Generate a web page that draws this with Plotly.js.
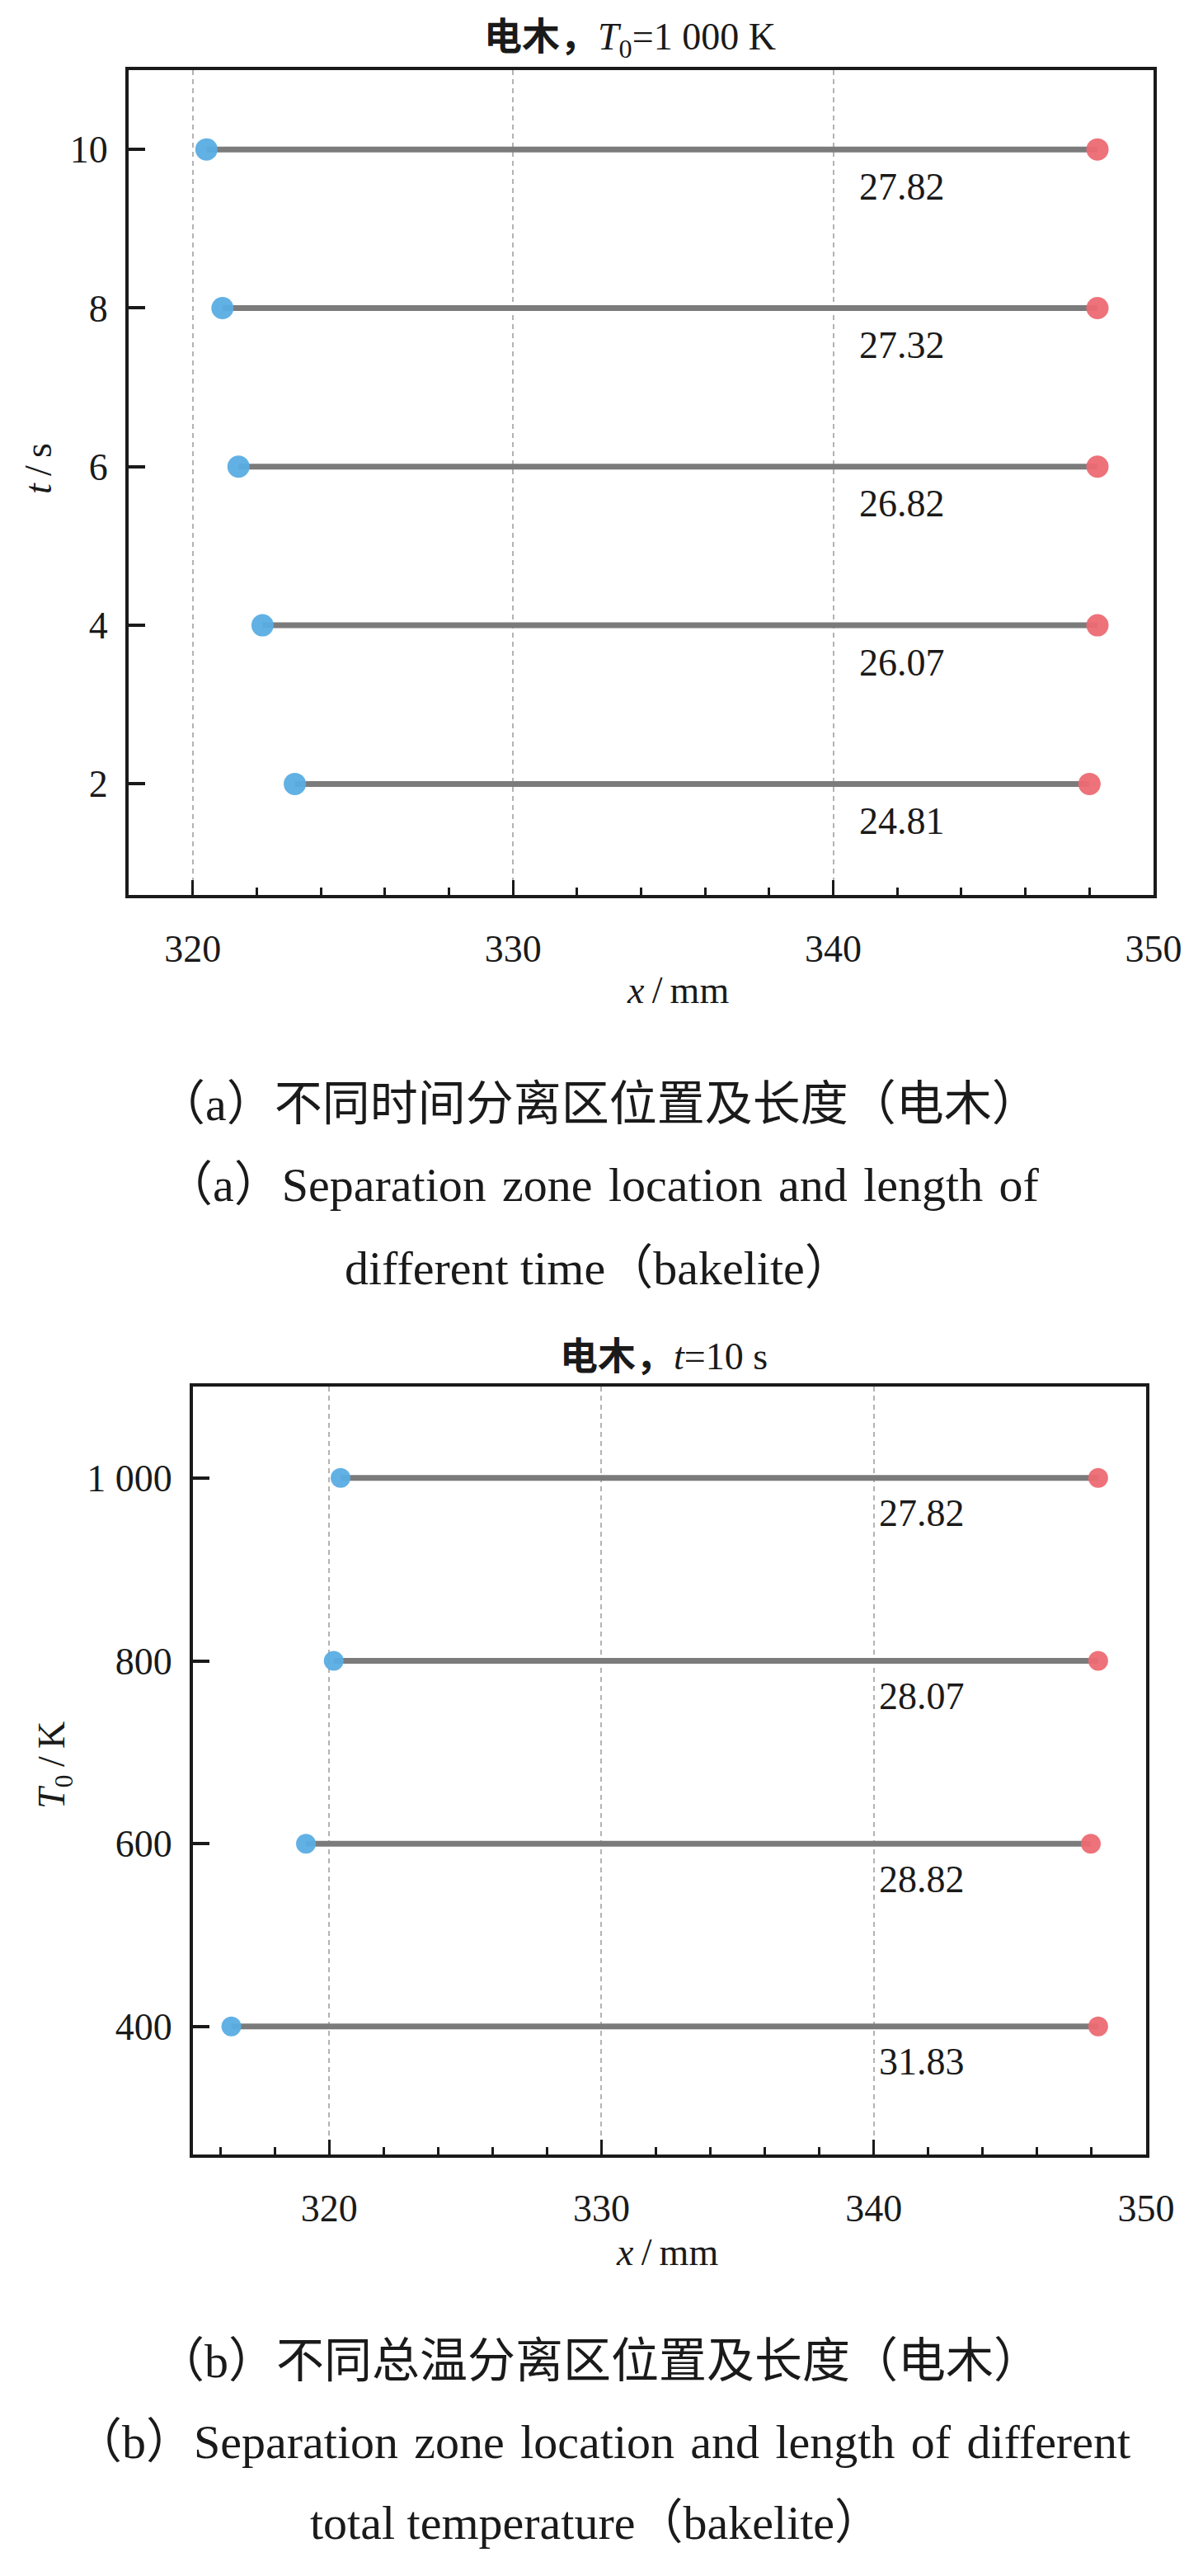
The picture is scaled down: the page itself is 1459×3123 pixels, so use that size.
<!DOCTYPE html>
<html>
<head>
<meta charset="utf-8">
<script src="https://cdn.plot.ly/plotly-3.0.1.min.js"></script>
<style>
  html, body { margin: 0; padding: 0; background: #ffffff; }
  #chart { width: 1459px; height: 3123px; }
</style>
</head>
<body>
<div id="chart"></div>
<script>
// ---------------- data ----------------
// (a) different time, T0 = 1 000 K
const times = [2, 4, 6, 8, 10];
const sepStartA = [323.19, 322.18, 321.43, 320.93, 320.43];
const sepEndA   = [348.00, 348.25, 348.25, 348.25, 348.25];
const lengthA   = ['24.81', '26.07', '26.82', '27.32', '27.82'];
const yTicksA   = [2, 4, 6, 8, 10];

// (b) different total temperature, t = 10 s
const temps = [400, 600, 800, 1000];
const sepStartB = [316.41, 319.15, 320.17, 320.42];
const sepEndB   = [348.24, 347.97, 348.24, 348.24];
const lengthB   = ['31.83', '28.82', '28.07', '27.82'];
const yTicksB   = [400, 600, 800, 1000];
const yTickTextB = ['400', '600', '800', '1 000'];
const xTicks    = [320, 330, 340, 350];

// ---------------- styling ----------------
const W = 1459, H = 3123;
const FONT = '"Liberation Serif", "Times New Roman", "Noto Sans CJK SC", serif';
const INK = '#1a1a1a';
const LINE_GRAY = '#7b7b7b';
const BLUE = '#5aade3';
const RED = '#ec6a73';
const px = v => v / W;
const py = v => 1 - v / H;
const WS = ' \u200A'; // slightly widened word space (justified caption lines)

function segTrace(starts, ends, ys, xa, ya) {
  const x = [], y = [];
  starts.forEach((s, i) => { x.push(s, ends[i], null); y.push(ys[i], ys[i], null); });
  return { type: 'scatter', mode: 'lines', x, y, xaxis: xa, yaxis: ya,
           line: { color: LINE_GRAY, width: 7 }, hoverinfo: 'skip', showlegend: false };
}
function dotTrace(xs, ys, color, size, xa, ya) {
  return { type: 'scatter', mode: 'markers', x: xs, y: ys, xaxis: xa, yaxis: ya,
           marker: { color, size, opacity: 0.95, line: { width: 0 } },
           hoverinfo: 'skip', showlegend: false };
}

const data = [
  segTrace(sepStartA, sepEndA, times, 'x', 'y'),
  dotTrace(sepStartA, times, BLUE, 27, 'x', 'y'),
  dotTrace(sepEndA, times, RED, 27, 'x', 'y'),
  segTrace(sepStartB, sepEndB, temps, 'x2', 'y2'),
  dotTrace(sepStartB, temps, BLUE, 24, 'x2', 'y2'),
  dotTrace(sepEndB, temps, RED, 24, 'x2', 'y2')
];

function xAxis(range, domain, anchor) {
  return {
    domain, range, anchor, tickvals: xTicks, ticks: 'inside', ticklen: 18, tickwidth: 3,
    tickcolor: INK, showline: true, mirror: true, linecolor: INK, linewidth: 4,
    showgrid: true, gridcolor: '#b3b3b3', gridwidth: 2, griddash: '6px,5px',
    zeroline: false, ticklabelstandoff: 22,
    tickfont: { family: FONT, size: 46, color: INK },
    minor: { dtick: 2, ticks: 'inside', ticklen: 9, tickwidth: 3, tickcolor: INK, showgrid: false }
  };
}
function yAxis(range, domain, anchor, tickvals, ticktext) {
  const a = {
    domain, range, anchor, tickvals, ticks: 'inside', ticklen: 20, tickwidth: 4,
    tickcolor: INK, showline: true, mirror: true, linecolor: INK, linewidth: 4,
    showgrid: false, zeroline: false, ticklabelstandoff: 12,
    tickfont: { family: FONT, size: 46, color: INK }
  };
  if (ticktext) a.ticktext = ticktext;
  return a;
}

function txt(text, x, y, size, extra) {
  return Object.assign({ text, x: px(x), y: py(y), xref: 'paper', yref: 'paper',
    xanchor: 'center', yanchor: 'middle', showarrow: false,
    font: { family: FONT, size, color: INK } }, extra || {});
}

const annotations = [];
// value labels
const labelXA = 340.76, labelXB = 340.13;
times.forEach((t, i) => annotations.push({ text: lengthA[i], x: labelXA, y: t, xref: 'x', yref: 'y',
  xanchor: 'left', yanchor: 'middle', yshift: -45, showarrow: false,
  font: { family: FONT, size: 46, color: INK } }));
temps.forEach((t, i) => annotations.push({ text: lengthB[i], x: labelXB, y: t, xref: 'x2', yref: 'y2',
  xanchor: 'left', yanchor: 'middle', yshift: -43, showarrow: false,
  font: { family: FONT, size: 46, color: INK } }));

// chart titles
annotations.push(txt('<b>电木，</b><i>T</i><sub>0</sub>=1 000 K', 764, 48, 46));
annotations.push(txt('<b>电木，</b><i>t</i>=10 s', 805, 1645, 46));
// axis titles
annotations.push(txt('<i>x</i>\u2009/\u2009mm', 822, 1200, 46));
annotations.push(txt('<i>t</i>\u2009/\u2009s', 46, 568, 46, { textangle: -90 }));
annotations.push(txt('<i>x</i>\u2009/\u2009mm', 809, 2730, 46));
annotations.push(txt('<i>T</i><sub>0</sub>\u2009/\u2009K', 66, 2140, 46, { textangle: -90 }));
// captions
annotations.push(txt('（a）不同时间分离区位置及长度（电木）', 726, 1338, 58));
annotations.push(txt('（a）' + ['Separation', 'zone', 'location', 'and', 'length', 'of'].join(WS), 730, 1437, 58));
annotations.push(txt('different time（bakelite）', 726, 1537, 58));
annotations.push(txt('（b）不同总温分离区位置及长度（电木）', 726, 2862, 58));
annotations.push(txt('（b）' + ['Separation', 'zone', 'location', 'and', 'length', 'of', 'different'].join(WS), 730, 2960, 58));
annotations.push(txt('total temperature（bakelite）', 723, 3058, 58));

const layout = {
  width: W, height: H,
  margin: { l: 0, r: 0, t: 0, b: 0, pad: 0 },
  paper_bgcolor: '#ffffff', plot_bgcolor: '#ffffff',
  showlegend: false,
  font: { family: FONT, color: INK },
  xaxis:  xAxis([318, 350], [px(156), px(1399)], 'y'),
  yaxis:  yAxis([0.6, 11.0], [py(1085), py(85)], 'x', yTicksA),
  xaxis2: xAxis([315, 350], [px(234), px(1390)], 'y2'),
  yaxis2: yAxis([260, 1100], [py(2612), py(1681)], 'x2', yTicksB, yTickTextB),
  annotations
};

Plotly.newPlot('chart', data, layout, { displayModeBar: false, staticPlot: true });
</script>
</body>
</html>
